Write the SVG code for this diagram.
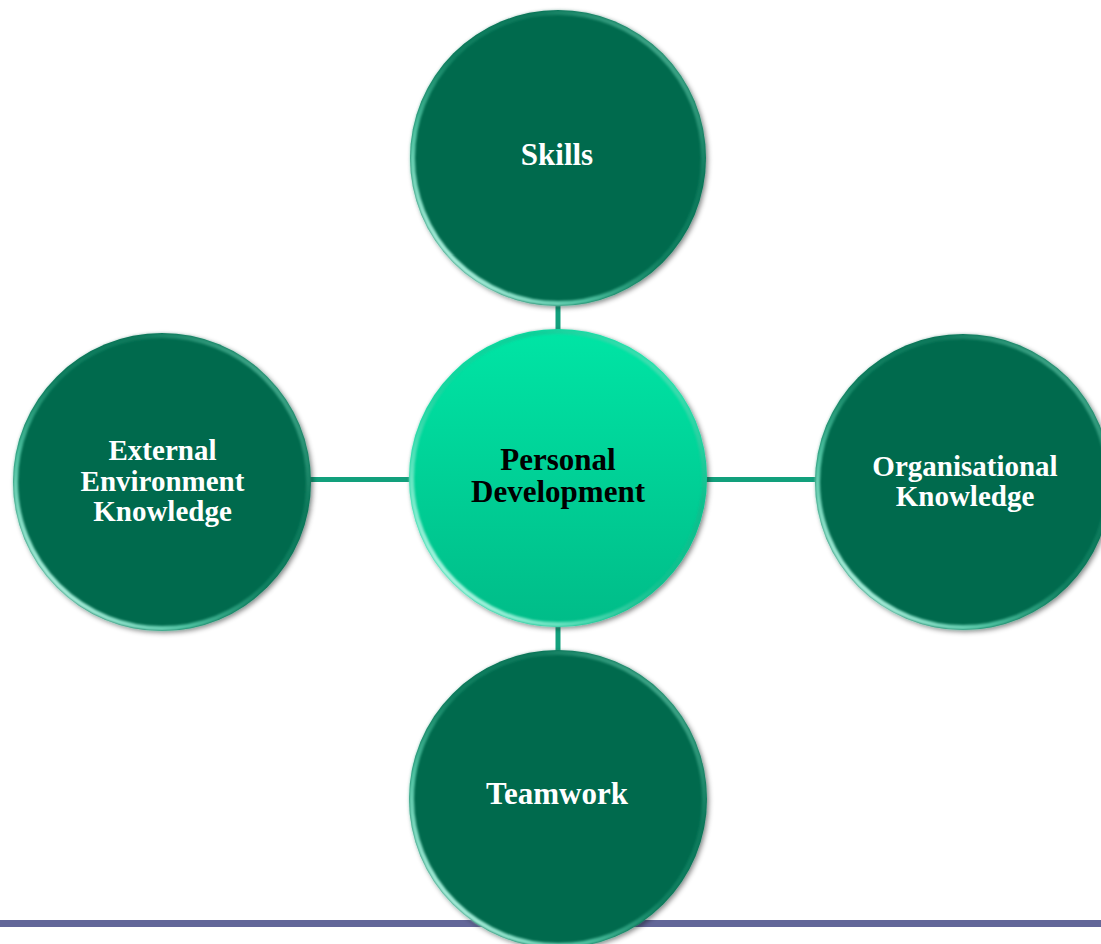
<svg xmlns="http://www.w3.org/2000/svg" width="1101" height="944" viewBox="0 0 1101 944">
  <defs>
    <linearGradient id="centerFill" x1="0" y1="0" x2="0" y2="1">
      <stop offset="0" stop-color="#06E5A5"/>
      <stop offset="1" stop-color="#02BC88"/>
    </linearGradient>
    <linearGradient id="rim" x1="0.1" y1="0.9" x2="0.9" y2="0.1">
      <stop offset="0" stop-color="#C8FFF0" stop-opacity="0.95"/>
      <stop offset="0.25" stop-color="#6FE6C4" stop-opacity="0.7"/>
      <stop offset="0.5" stop-color="#3FBF98" stop-opacity="0.25"/>
      <stop offset="0.75" stop-color="#2A9C7C" stop-opacity="0.3"/>
      <stop offset="1" stop-color="#8FF0D2" stop-opacity="0.55"/>
    </linearGradient>
    <filter id="shadow" x="-10%" y="-10%" width="120%" height="120%">
      <feDropShadow dx="2" dy="2" stdDeviation="2.5" flood-color="#000" flood-opacity="0.45"/>
    </filter>
    <filter id="soft" x="-5%" y="-5%" width="110%" height="110%">
      <feGaussianBlur stdDeviation="1.2"/>
    </filter>
  </defs>
  <style>
    .outer { fill: #026A4E; filter: url(#shadow); }
    .center { fill: url(#centerFill); filter: url(#shadow); }
    .rim { fill: none; stroke: url(#rim); stroke-width: 5; filter: url(#soft); }
    .conn { stroke: #12A07C; stroke-width: 5; fill: none; }
    .lbl { font-family: "Liberation Serif", "Times New Roman", serif; font-weight: bold; text-anchor: middle; }
    .w { fill: #FFFFFF; font-size: 29px; }
    .w1 { fill: #FFFFFF; font-size: 31px; }
    .b { fill: #000000; font-size: 31px; }
  </style>
  <rect x="0" y="0" width="1101" height="944" fill="#FFFFFF"/>
  <rect x="0" y="920" width="1101" height="7" fill="#636799"/>

  <g id="connectors">
    <line class="conn" x1="558" y1="300" x2="558" y2="335"/>
    <line class="conn" x1="305" y1="479.5" x2="415" y2="479.5"/>
    <line class="conn" x1="700" y1="479.5" x2="820" y2="479.5"/>
    <line class="conn" x1="558" y1="620" x2="558" y2="656"/>
  </g>

  <g id="node-skills">
    <circle class="outer" cx="558" cy="158" r="148"/>
    <circle class="rim" cx="558" cy="158" r="145.5"/>
    <text class="lbl w1" x="557" y="165">Skills</text>
  </g>

  <g id="node-external">
    <circle class="outer" cx="162" cy="482" r="149"/>
    <circle class="rim" cx="162" cy="482" r="146.5"/>
    <text class="lbl w" x="162.5" y="460">External</text>
    <text class="lbl w" x="162.5" y="491">Environment</text>
    <text class="lbl w" x="162.5" y="521">Knowledge</text>
  </g>

  <g id="node-organisational">
    <circle class="outer" cx="963" cy="482" r="148"/>
    <circle class="rim" cx="963" cy="482" r="145.5"/>
    <text class="lbl w" x="965" y="476">Organisational</text>
    <text class="lbl w" x="965" y="506">Knowledge</text>
  </g>

  <g id="node-teamwork">
    <circle class="outer" cx="558" cy="799" r="149"/>
    <circle class="rim" cx="558" cy="799" r="146.5"/>
    <text class="lbl w1" x="557" y="804">Teamwork</text>
  </g>

  <g id="node-personal-development">
    <circle class="center" cx="558" cy="478" r="149"/>
    <circle class="rim" cx="558" cy="478" r="146.5"/>
    <text class="lbl b" x="558" y="470">Personal</text>
    <text class="lbl b" x="558" y="502">Development</text>
  </g>
</svg>
